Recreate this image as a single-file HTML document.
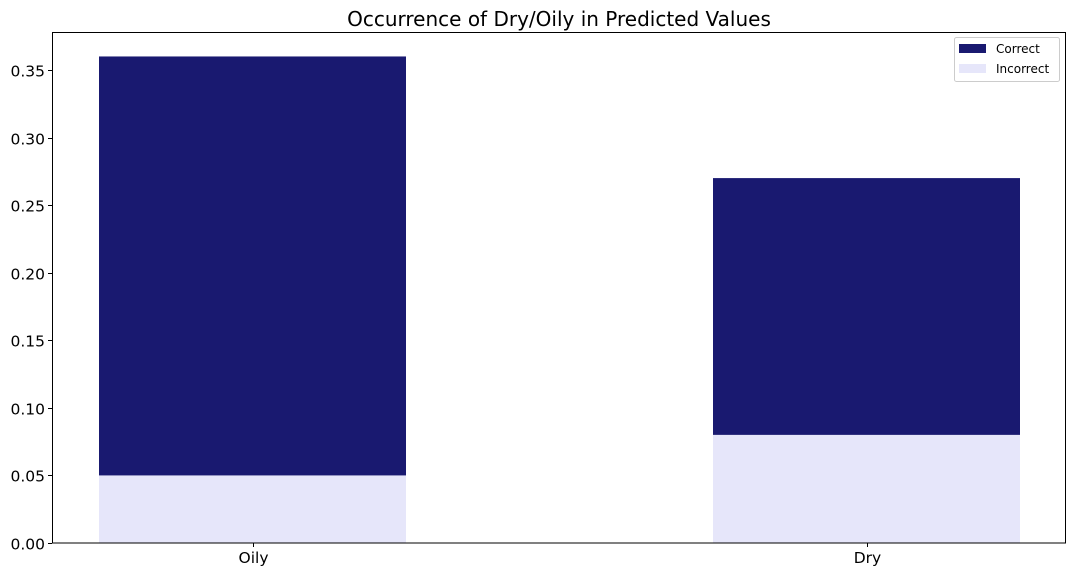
<!DOCTYPE html>
<html><head><meta charset="utf-8">
<style>
body{margin:0;background:#fff;}
svg text{font-family:"DejaVu Sans","Liberation Sans",sans-serif;}
</style></head>
<body>
<svg id="chart" width="1080" height="576" xmlns="http://www.w3.org/2000/svg">
<rect width="1080" height="576" fill="#fff"/>
<text x="559" y="26" font-size="20" text-anchor="middle">Occurrence of Dry/Oily in Predicted Values</text>
<g id="bars"></g>
<g id="yaxis"></g>
<g id="xaxis"></g>
<rect x="52.5" y="32.5" width="1013" height="510.5" fill="none" stroke="#000" stroke-width="1"/>
<g>
<rect x="954.5" y="37.5" width="105" height="44" rx="2" fill="#fff" stroke="#ccc"/>
<rect x="959" y="44" width="27" height="9" fill="#191970"/>
<text x="996" y="53" font-size="12">Correct</text>
<rect x="959" y="64" width="27" height="9" fill="#e6e6fa"/>
<text x="996" y="73" font-size="12">Incorrect</text>
</g>
</svg>
<script>
const categories = ["Oily", "Dry"];
const incorrectVals = [0.05, 0.08];
const correctVals = [0.31, 0.19];
const yTicks = [0, 0.05, 0.10, 0.15, 0.20, 0.25, 0.30, 0.35];
const yTickLabels = ["0.00","0.05","0.10","0.15","0.20","0.25","0.30","0.35"];

const NS = "http://www.w3.org/2000/svg";
const y0 = 543, pxPerUnit = 1351.5;
function yScale(v){ return y0 - v * pxPerUnit; }
function xScale(i){ return 252.5 + i * 614; }
const barW = 307;
function mk(tag, attrs, parent){
  const el = document.createElementNS(NS, tag);
  for (const k in attrs) el.setAttribute(k, attrs[k]);
  parent.appendChild(el);
  return el;
}
const bars = document.getElementById('bars');
categories.forEach((c, i) => {
  const cx = xScale(i);
  const inc = mk('rect', {x: cx - barW/2, y: yScale(incorrectVals[i]), width: barW, height: y0 - yScale(incorrectVals[i]), fill: '#e6e6fa'}, bars);
  
  
  const top = incorrectVals[i] + correctVals[i];
  const cor = mk('rect', {x: cx - barW/2, y: yScale(top), width: barW, height: yScale(incorrectVals[i]) - yScale(top), fill: '#191970'}, bars);
  
  
});
const ya = document.getElementById('yaxis');
yTicks.forEach((t, i) => {
  const y = Math.round(yScale(t)) + 0.5;
  const ln = mk('line', {x1: 48, x2: 52, y1: y, y2: y, stroke: '#000'}, ya);
  
  
  const tx = mk('text', {x: 45, y: y + 6, 'font-size': 15.5, 'text-anchor': 'end'}, ya);
  tx.textContent = yTickLabels[i];
  
  
});
const xa = document.getElementById('xaxis');
categories.forEach((c, i) => {
  const x = Math.round(xScale(i)) + 0.5;
  const ln = mk('line', {x1: x, x2: x, y1: 543, y2: 547, stroke: '#000'}, xa);
  
  
  const tx = mk('text', {x: x, y: 563, 'font-size': 15.5, 'text-anchor': 'middle'}, xa);
  tx.textContent = c;
  
  
});
</script>
</body></html>
